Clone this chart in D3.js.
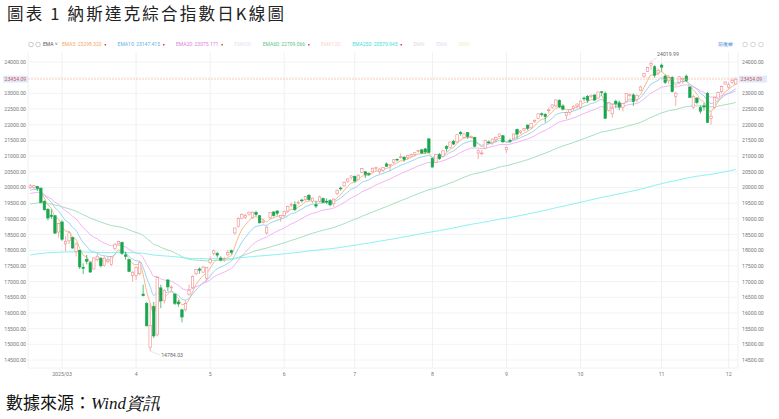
<!DOCTYPE html>
<html><head><meta charset="utf-8">
<script src="https://cdn.jsdelivr.net/npm/d3@7"></script>
<style>body{margin:0;background:#fff}</style>
</head><body>
<svg id="chart" width="779" height="419"></svg>
<script>
// trading days per month, Feb 18 2025 .. Dec 3 2025
const months = ['2025/02','2025/03','4','5','6','7','8','9','10','11','12'];
const monthDays = [9,21,21,21,20,22,21,21,23,19,3];

const opens = [
 20000,20000,20030,19980,19560,19300,19120,19100,18580,
 18900,18200,18300,18400,17950,18000,17450,17700,17600,17400,17700,17750,17520,17650,17550,18050,18200,18250,17850,17700,17200,
 17200,17250,16600,16300,14900,16200,15300,16800,16400,17050,16800,16600,16350,16100,16100,16600,16800,17250,17400,17300,17100,
 17600,17900,17900,17750,17700,17850,17990,18550,18750,19020,19050,19150,19050,19200,19100,18880,18550,19050,19220,19250,19050,
 19100,19250,19450,19450,19520,19600,19610,19750,19560,19450,19550,19650,19560,19580,19480,19800,19980,20050,20200,20320,
 20350,20250,20480,20500,20450,20500,20600,20500,20550,20750,20700,20800,20900,20950,20970,20950,21000,21050,21150,21200,21230,21550,
 20920,20800,21050,21000,21300,21280,21470,21450,21750,21600,21750,21600,21600,21100,21100,21250,21450,21420,21520,21630,21650,
 21200,21500,21550,21850,21760,21830,21990,21900,22100,22200,22350,22330,22450,22550,22600,22780,22600,22300,22400,22520,22600,
 22550,22850,22900,22900,22950,22850,23050,23000,22450,22350,22750,22700,22550,22750,22950,22950,22800,23100,23550,23700,23900,23850,23650,
 23900,23550,23400,23500,22900,23350,23450,23550,23200,22550,22850,22550,22600,23000,22200,22550,22850,23050,23300,
 23200,23350,23300];
const highs = [
 20110,20070,20050,19990,19590,19350,19300,19120,18880,
 18950,18450,18600,18420,18250,18000,17580,17850,17650,17760,17900,17760,17800,17800,17800,18230,18300,18270,17950,17720,17330,
 17480,17650,16900,16350,16300,16350,17150,16900,16760,17080,16880,16620,16420,16130,16400,16900,17200,17400,17450,17500,17460,
 17800,18020,17950,17810,17790,18000,18020,18710,19050,19180,19160,19230,19230,19260,19120,19000,18780,19210,19240,19280,19120,
 19260,19420,19520,19560,19580,19640,19730,19790,19680,19580,19740,19680,19650,19630,19640,19940,20030,20190,20290,20380,
 20380,20420,20620,20520,20480,20640,20660,20610,20650,20800,20740,20900,20920,21080,20980,21030,21080,21110,21200,21220,21260,21560,
 20950,21060,21100,21200,21350,21460,21520,21690,21800,21730,21770,21660,21610,21220,21200,21520,21500,21560,21620,21720,21660,
 21300,21560,21710,21880,21820,21900,22000,22050,22180,22360,22390,22370,22550,22650,22800,22810,22650,22420,22500,22620,22680,
 22770,22900,22950,22960,22960,23050,23070,23060,22720,22650,22800,22770,22700,23000,23000,23000,22960,23240,23660,23850,24020,23900,23800,
 23950,23600,23550,23550,23050,23550,23500,23600,23220,22950,22880,22620,22700,23050,22430,22900,23060,23250,23390,
 23350,23480,23500];
const lows = [
 19950,19950,19890,19500,19270,18950,19000,18520,18400,
 18300,17960,18200,18050,17800,17400,17240,17550,17280,17390,17650,17450,17480,17580,17500,18000,18180,17850,17700,17300,17000,
 17050,17200,16530,15580,14784,15200,15250,16150,16300,16700,16700,16250,16200,15700,16050,16550,16780,17200,17250,17280,17000,
 17570,17830,17760,17640,17620,17820,17860,18500,18720,19000,19000,19100,19000,19090,18850,18850,18500,18980,19070,19100,18900,
 19050,19200,19380,19250,19450,19520,19570,19580,19500,19340,19520,19500,19480,19400,19390,19760,19900,20030,20150,20250,
 20190,20240,20470,20300,20370,20480,20530,20420,20490,20660,20520,20750,20830,20920,20820,20880,20980,21000,21110,21070,21070,21080,
 20640,20800,20880,20950,21140,21260,21350,21420,21650,21560,21550,21560,21280,20900,21020,21220,21400,21350,21450,21590,21420,
 21100,21420,21530,21560,21700,21790,21820,21880,22060,22180,22260,22070,22350,22510,22570,22530,22450,22180,22300,22460,22520,
 22500,22750,22700,22850,22760,22830,22920,22200,22420,22220,22540,22460,22420,22720,22880,22600,22720,23080,23500,23680,23750,23500,23580,
 23700,23300,23300,23030,22600,23300,23300,23360,22850,22500,22650,22350,22450,22050,22000,22500,22800,23000,23280,
 23150,23300,23280];
const closes = [
 20056,20056,19962,19524,19287,19026,19075,18544,18847,
 18350,18285,18553,18069,18196,17468,17436,17648,17303,17754,17808,17504,17750,17691,17784,18188,18272,17900,17804,17323,17299,
 17450,17601,16551,15588,15603,15268,17124,16387,16724,16831,16824,16307,16286,15870,16300,16708,17166,17383,17366,17461,17446,
 17710,17978,17844,17690,17738,17928,17929,18708,19010,19146,19112,19211,19215,19143,18873,18925,18737,19199,19101,19175,19114,
 19243,19399,19460,19298,19530,19591,19715,19615,19662,19407,19701,19521,19546,19447,19631,19913,19973,20168,20273,20370,
 20202,20393,20601,20412,20418,20611,20630,20586,20640,20677,20730,20885,20896,20974,20892,21020,21057,21108,21179,21098,21130,21122,
 20650,21053,20916,21169,21242,21450,21385,21681,21713,21710,21623,21630,21315,21172,21100,21496,21449,21544,21590,21705,21455,
 21280,21498,21707,21700,21799,21879,21886,22043,22141,22349,22333,22261,22471,22631,22789,22573,22497,22384,22484,22591,22660,
 22755,22845,22780,22942,22789,23044,23024,22204,22695,22521,22671,22562,22680,22991,22954,22740,22942,23205,23637,23827,23958,23581,23725,
 23835,23349,23500,23054,23005,23527,23468,23406,22870,22900,22708,22432,22564,22078,22273,22872,23025,23215,23365,
 23276,23414,23454];

// EMA lines: period, start level, colour
const emaPeriods = [5, 10, 20, 60, 250];
const emaStarts = [20000, 19880, 19780, 19450, 17830];
const emaColors = ['#f6b07a', '#8ccfee', '#f0aaf0', '#9adcb4', '#7eeeee'];

const legendItems = [
 {t:'EMA5:', v:'23298.320', c:'#f5a864'}, {t:'EMA10:', v:'23147.415', c:'#5ab4e4'},
 {t:'EMA20:', v:'23075.171', c:'#e07ee0'}, {t:'EMA30:', v:'', c:'#dde4f6'},
 {t:'EMA60:', v:'22709.066', c:'#5cc486'}, {t:'EMA120:', v:'', c:'#f8d6d0'},
 {t:'EMA250:', v:'20570.945', c:'#3ee0e0'}, {t:'EMA:', v:'', c:'#dddddd'},
 {t:'EMA:', v:'', c:'#e6dcf4'}, {t:'EMA:', v:'', c:'#f8ecd0'}];

const yTicks = d3.range(14500, 24001, 500);
const lastPrice = 23454.09;

const svg = d3.select('#chart');
const margin = {left:28, right:41, top:52, bottom:51};
const W = 779, H = 419;

svg.append('text').attr('x', 7).attr('y', 20)
  .attr('font-family', '"Noto Sans CJK TC",sans-serif').attr('font-size', 16.5)
  .attr('letter-spacing', 2.2).attr('fill', '#222').text('圖表 1 納斯達克綜合指數日K線圖');
const src = svg.append('text').attr('x', 6).attr('y', 409)
  .attr('font-family', '"Noto Sans CJK TC",serif').attr('font-size', 17).attr('fill', '#111');
src.append('tspan').text('數據來源：');
src.append('tspan').attr('font-style', 'italic').attr('font-family', '"Liberation Serif",serif').text('Wind資訊');

const n = closes.length;
const x = d3.scaleBand().domain(d3.range(n)).range([margin.left, W - margin.right]).padding(0.3);
const y = d3.scaleLinear().domain([14500, 24000]).range([360, 62]);

// grid
svg.append('g').selectAll('line').data(yTicks).join('line')
  .attr('x1', margin.left).attr('x2', W - margin.right)
  .attr('y1', d => y(d)).attr('y2', d => y(d)).attr('stroke', '#f1f3f5');
const monthStart = [];
monthDays.reduce((acc, d, i) => { monthStart.push({label: months[i], i: acc}); return acc + d; }, 0);
const ticks = monthStart.slice(1);
svg.append('g').selectAll('line').data(ticks).join('line')
  .attr('x1', d => x(d.i) + x.bandwidth() / 2).attr('x2', d => x(d.i) + x.bandwidth() / 2)
  .attr('y1', 52).attr('y2', 368).attr('stroke', '#eef0f3');
svg.append('line').attr('x1', margin.left).attr('x2', margin.left).attr('y1', 52).attr('y2', 368).attr('stroke', '#eef0f3');
svg.append('line').attr('x1', W - margin.right).attr('x2', W - margin.right).attr('y1', 52).attr('y2', 368).attr('stroke', '#eef0f3');
svg.append('line').attr('x1', margin.left).attr('x2', W - margin.right).attr('y1', 368).attr('y2', 368).attr('stroke', '#eef0f3');

// axis labels
const fmt = d3.format('.2f');
['left', 'right'].forEach(side => {
  svg.append('g').selectAll('text').data(yTicks).join('text')
    .attr('x', side === 'left' ? 26 : 742).attr('y', d => y(d) + 2)
    .attr('text-anchor', side === 'left' ? 'end' : 'start')
    .attr('font-family', 'Roboto, sans-serif').attr('font-size', 5.2).attr('fill', '#777')
    .text(d => fmt(d));
});
svg.append('g').selectAll('text').data(ticks).join('text')
  .attr('x', d => x(d.i) + x.bandwidth() / 2).attr('y', 376).attr('text-anchor', 'middle')
  .attr('font-family', 'Roboto, sans-serif').attr('font-size', 5.2).attr('fill', '#777')
  .text(d => d.label);

// EMAs
emaPeriods.forEach((p, k) => {
  const a = 2 / (p + 1);
  let e = emaStarts[k];
  const vals = closes.map(c => (e = a * c + (1 - a) * e));
  svg.append('path').datum(vals).attr('fill', 'none').attr('stroke', emaColors[k]).attr('stroke-width', 0.9)
    .attr('d', d3.line().x((d, i) => x(i) + x.bandwidth() / 2).y(d => y(d)).curve(d3.curveMonotoneX));
});

// candles
const up = '#f08c8c', down = '#19a64e';
const g = svg.append('g').selectAll('g').data(d3.range(n)).join('g');
g.append('line')
  .attr('x1', i => x(i) + x.bandwidth() / 2).attr('x2', i => x(i) + x.bandwidth() / 2)
  .attr('y1', i => y(highs[i])).attr('y2', i => y(lows[i]))
  .attr('stroke', i => closes[i] >= opens[i] ? up : down).attr('stroke-width', 0.7);
g.append('rect')
  .attr('x', i => x(i)).attr('width', x.bandwidth())
  .attr('y', i => y(Math.max(opens[i], closes[i])))
  .attr('height', i => Math.max(0.8, Math.abs(y(opens[i]) - y(closes[i]))))
  .attr('fill', i => closes[i] >= opens[i] ? '#fff' : down)
  .attr('stroke', i => closes[i] >= opens[i] ? up : down).attr('stroke-width', 0.6);

// last price line
svg.append('line').attr('x1', margin.left).attr('x2', W - margin.right)
  .attr('y1', y(lastPrice)).attr('y2', y(lastPrice))
  .attr('stroke', '#f5b08a').attr('stroke-width', 0.6).attr('stroke-dasharray', '2,1');
[[3, 25], [739, 28]].forEach(([bx, bw]) => {
  svg.append('rect').attr('x', bx).attr('y', y(lastPrice) - 3.5).attr('width', bw).attr('height', 7).attr('fill', '#dcecfa');
  svg.append('text').attr('x', bx + 1.5).attr('y', y(lastPrice) + 2).attr('font-family', 'Roboto, sans-serif')
    .attr('font-size', 5.2).attr('fill', '#e05050').text(fmt(lastPrice));
});

// extreme labels
const hiI = d3.maxIndex(highs), loI = d3.minIndex(lows);
const hx = x(hiI) + x.bandwidth() / 2, lx = x(loI) + x.bandwidth() / 2;
svg.append('line').attr('x1', hx).attr('y1', y(highs[hiI])).attr('x2', hx + 6).attr('y2', y(highs[hiI]) - 4).attr('stroke', '#ccc').attr('stroke-width', 0.5);
svg.append('text').attr('x', hx + 6).attr('y', y(highs[hiI]) - 5).attr('font-family', 'Roboto, sans-serif').attr('font-size', 5.2).attr('fill', '#666').text('24019.99');
svg.append('line').attr('x1', lx).attr('y1', y(lows[loI])).attr('x2', lx + 10).attr('y2', y(lows[loI]) + 4).attr('stroke', '#ccc').attr('stroke-width', 0.5);
svg.append('text').attr('x', lx + 11).attr('y', y(lows[loI]) + 6).attr('font-family', 'Roboto, sans-serif').attr('font-size', 5.2).attr('fill', '#666').text('14784.03');

// legend
const lg = svg.append('g').attr('font-family', 'Roboto, sans-serif').attr('font-size', 5);
lg.append('circle').attr('cx', 31).attr('cy', 44.5).attr('r', 2.3).attr('fill', 'none').attr('stroke', '#999').attr('stroke-width', 0.5);
lg.append('circle').attr('cx', 38).attr('cy', 44.5).attr('r', 2.3).attr('fill', 'none').attr('stroke', '#999').attr('stroke-width', 0.5);
lg.append('text').attr('x', 43).attr('y', 46.2).attr('fill', '#555').text('EMA  ˅');
let lx0 = 62;
legendItems.forEach(d => {
  const t = lg.append('text').attr('x', lx0).attr('y', 46.2).attr('fill', d.c).text(d.t + (d.v ? '   ' + d.v : ''));
  const w = t.node().getComputedTextLength();
  if (d.v) lg.append('rect').attr('x', lx0 + w + 3).attr('y', 44).attr('width', 1.5).attr('height', 1.5).attr('fill', '#e04040');
  lx0 += w + (d.v ? 16 : 11);
});
lg.append('text').attr('x', 733).attr('y', 46.2).attr('text-anchor', 'end').attr('fill', '#3a7bd5').text('前復權');
[745, 753, 761].forEach(cx => lg.append('circle').attr('cx', cx).attr('cy', 44.5).attr('r', 2.3).attr('fill', 'none').attr('stroke', '#aaa').attr('stroke-width', 0.5));
</script>
</body></html>
